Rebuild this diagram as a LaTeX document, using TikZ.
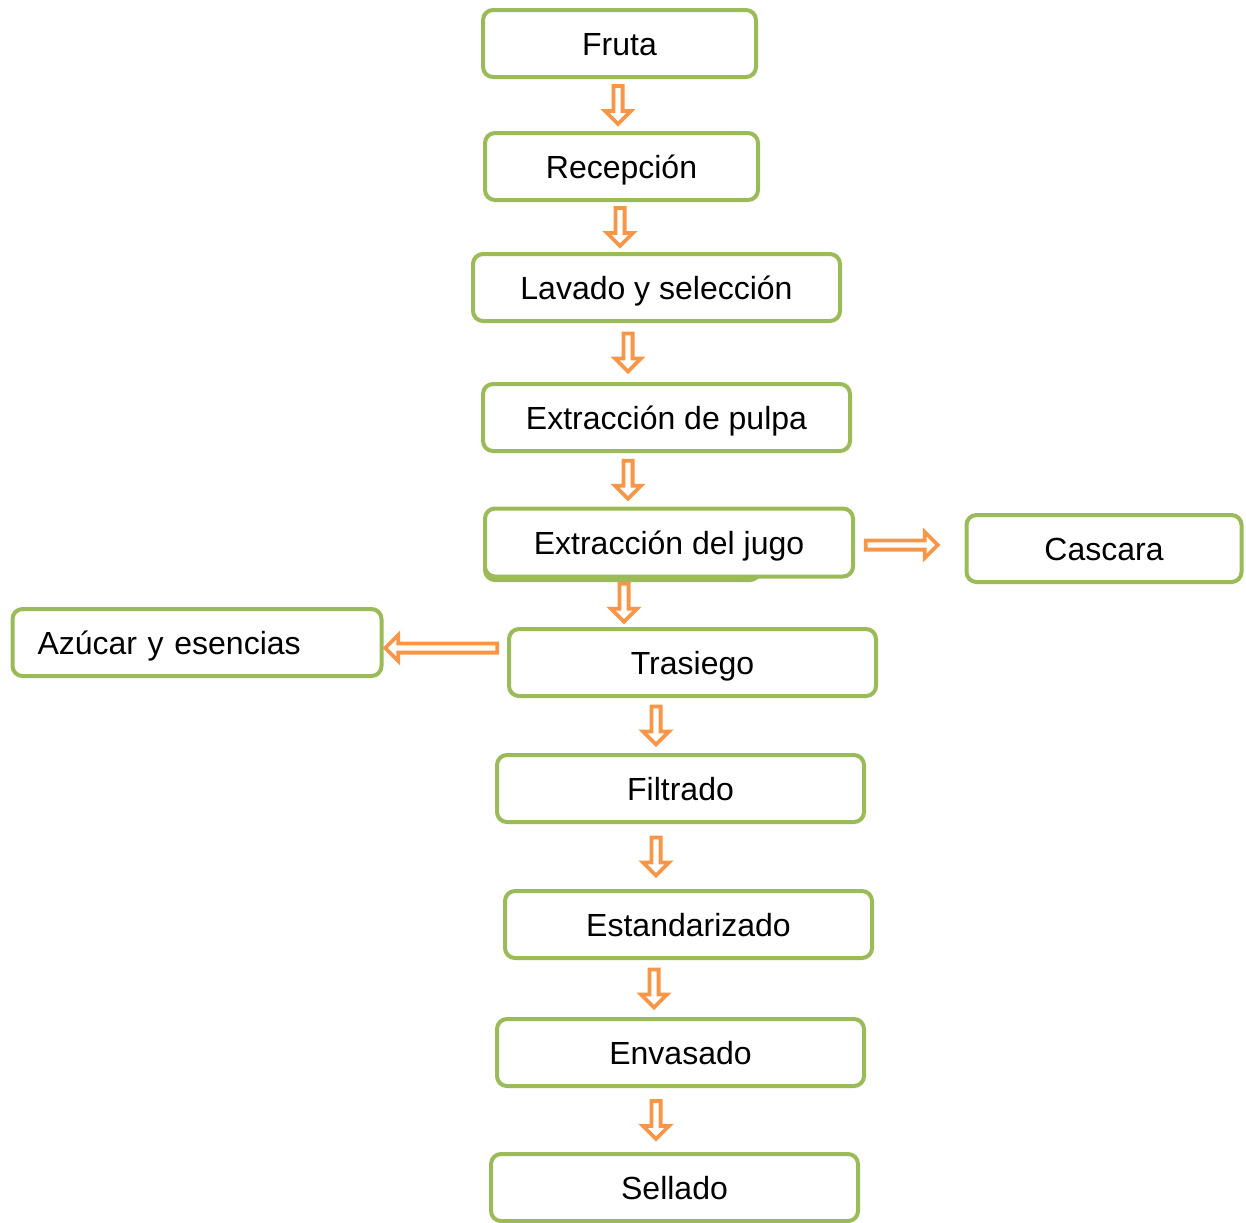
\documentclass[tikz,border=0pt]{standalone}
\usepackage{fontspec}
\setmainfont{Liberation Sans}
\usetikzlibrary{calc,positioning}
\definecolor{verde}{HTML}{9BBB59}
\definecolor{naranja}{HTML}{F79646}

\begin{document}
\begin{tikzpicture}[x=0.5pt,y=-0.5pt,
    caja/.style={draw=verde, line width=2pt, rounded corners=5pt, fill=white,
      minimum width=183.5pt, minimum height=33.5pt, inner sep=0pt,
      text height=11.5pt, text depth=0pt,
      font=\fontsize{16}{19}\selectfont},
    flecha/.style={draw=naranja, line width=1.9pt, fill=white, line join=miter,
      to path={let \p1=($(\tikztostart)!0.5!(\tikztotarget)$),
                   \p2=($(\p1)!#1!(\tikztostart)$),
                   \p3=($(\p1)!#1!(\tikztotarget)$),
                   \p4=($(\p3)!6.5pt!(\p2)$) in
        ($(\p2)!2.3pt!90:(\p3)$) -- ($(\p4)!2.3pt!90:(\p3)$) -- ($(\p4)!6.5pt!90:(\p3)$)
        -- (\p3) -- ($(\p4)!6.5pt!-90:(\p3)$) -- ($(\p4)!2.3pt!-90:(\p3)$)
        -- ($(\p2)!2.3pt!-90:(\p3)$) -- cycle}},
    flecha/.default=9.5pt]
    \useasboundingbox (0,0) rectangle (1246,1222);

    \node[caja, minimum width=136.5pt] (fruta)    at (619.5,43.5)  {Fruta};
    \node[caja, minimum width=136.5pt] (recep)    at (621.5,166.5) {Recepción};
    \node[caja]                        (lavado)   at (656.5,287.5) {Lavado y selección};
    \node[caja]                        (pulpa)    at (666.5,417.5) {Extracción de pulpa};
    % caja de fondo bajo el jugo
    \draw[draw=verde, line width=2pt, rounded corners=5pt, fill=white] (485,515) rectangle (760,580);
    \node[caja, minimum width=184pt, minimum height=34pt] (jugo) at (669,542.5) {Extracción del jugo};
    \node[caja, minimum width=137.5pt] (cascara)  at (1104,548.5)  {Cascara};
    \node[caja]                        (trasiego) at (692.5,662.5) {Trasiego};
    \node[caja, align=left, text width=159.5pt, inner xsep=12.5pt] (azucar) at (197,642.5) {Azúcar y esencias};
    \node[caja]                        (filtrado) at (680.5,788.5) {Filtrado};
    \node[caja]                        (estand)   at (688.5,924.5) {Estandarizado};
    \node[caja]                        (envasado) at (680.5,1052.5) {Envasado};
    \node[caja]                        (sellado)  at (674.5,1187.5) {Sellado};

    \path[flecha]
    (fruta.south -| 618,0)    to (recep.north -| 618,0)
    (recep.south -| 620,0)    to (lavado.north -| 620,0)
    (lavado.south -| 628,0)   to (pulpa.north -| 628,0)
    (pulpa.south -| 628,0)    to (jugo.north -| 628,0)
    (jugo.south -| 624,0)     to (trasiego.north -| 624,0)
    (trasiego.south -| 656,0) to (filtrado.north -| 656,0)
    (filtrado.south -| 656,0) to (estand.north -| 656,0)
    (estand.south -| 654,0)   to (envasado.north -| 654,0)
    (envasado.south -| 656,0) to (sellado.north -| 656,0)
    ;
    \path[flecha=18pt] (jugo.east |- 0,545) to ($(cascara.west |- 0,545)+(-16,0)$);
    \path[flecha=28pt] ($(trasiego.west |- 0,648)+(-8,0)$) to (azucar.east |- 0,648);
  \end{tikzpicture}
\end{document}
